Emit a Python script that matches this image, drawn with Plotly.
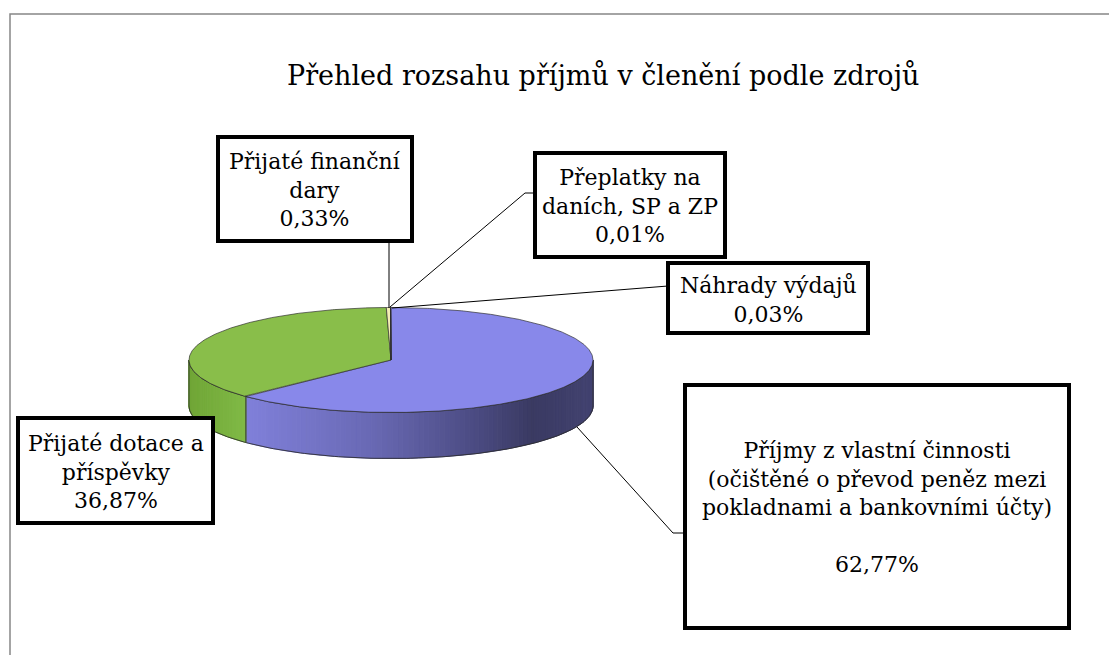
import numpy as np
import plotly.graph_objects as go

# ---- data ----
categories = [
    "Příjmy z vlastní činnosti\n(očištěné o převod peněz mezi\npokladnami a bankovními účty)\n",
    "Přijaté dotace a\npříspěvky",
    "Přijaté finanční\ndary",
    "Přeplatky na\ndaních, SP a ZP",
    "Náhrady výdajů",
]
values = [62.77, 36.87, 0.33, 0.01, 0.03]
title = "Přehled rozsahu příjmů v členění podle zdrojů"

# ---- styles ----
top_colors = ["#8888EA", "#89BE4A", "#F3EEB4", "#C0504D", "#4BACC6"]
side_stops = [
    [(0.0, (135, 135, 225)), (0.14, (128, 128, 218)), (0.45, (105, 105, 180)),
     (0.7, (76, 76, 132)), (0.85, (58, 58, 98)), (1.0, (66, 66, 112))],
    [(0.0, (112, 165, 54)), (0.14, (128, 186, 70)), (1.0, (128, 186, 70))],
    [(0.0, (220, 214, 150)), (1.0, (220, 214, 150))],
    [(0.0, (160, 60, 60)), (1.0, (160, 60, 60))],
    [(0.0, (60, 140, 160)), (1.0, (60, 140, 160))],
]
FONT = "DejaVu Serif"
W, H = 1109, 655
cx, cy, a, b, depth = 391, 360, 202, 52.5, 46

# label boxes: (x0, y0, x1, y1)
boxes = [(685, 385, 1069, 628), (18, 418, 213, 523), (218, 137, 412, 241),
         (535, 153, 725, 257), (668, 263, 868, 333)]
leaders = [
    [(577, 427), (673, 533), (685, 533)],
    None,
    [(389, 308), (389, 241)],
    [(390, 307), (525, 193), (535, 193)],
    [(392, 308), (668, 286)],
]


def pt(theta, dy=0.0):
    t = np.radians(theta)
    return cx + a * np.sin(t), cy - b * np.cos(t) + dy


def interp(stops, t):
    for (t0, c0), (t1, c1) in zip(stops[:-1], stops[1:]):
        if t <= t1:
            f = 0 if t1 == t0 else (t - t0) / (t1 - t0)
            f = min(max(f, 0), 1)
            return tuple(int(round(c0[i] + f * (c1[i] - c0[i]))) for i in range(3))
    return stops[-1][1]


fig = go.Figure()
total = sum(values)
bounds = np.concatenate([[0], np.cumsum(values) / total * 360])
edge = "rgba(45,45,45,0.85)"

# sides (front part only)
for i, v in enumerate(values):
    s, e = max(bounds[i], 90), min(bounds[i + 1], 270)
    if e <= s:
        continue
    n = max(2, int((e - s) / 1.5) + 1)
    th = np.linspace(s, e, n + 1)
    for k in range(n):
        t_a, t_b = th[k], th[k + 1]
        xa, ya = pt(t_a)
        xb, yb = pt(t_b)
        xm = (xa + xb) / 2
        c = interp(side_stops[i], (xm - (cx - a)) / (2 * a))
        col = "rgb(%d,%d,%d)" % c
        arc = np.linspace(t_a, t_b, 4)
        xs_top, ys_top = pt(arc)
        xs_bot, ys_bot = pt(arc[::-1], depth)
        fig.add_trace(go.Scatter(
            x=list(xs_top) + list(xs_bot) + [xs_top[0]],
            y=list(ys_top) + list(ys_bot) + [ys_top[0]],
            mode="lines", fill="toself", fillcolor=col,
            line=dict(color=col, width=1), hoverinfo="skip", showlegend=False))
    arc = np.linspace(s, e, 120)
    xs_top, ys_top = pt(arc)
    xs_bot, ys_bot = pt(arc[::-1], depth)
    fig.add_trace(go.Scatter(
        x=list(xs_top) + list(xs_bot) + [xs_top[0]],
        y=list(ys_top) + list(ys_bot) + [ys_top[0]],
        mode="lines", line=dict(color=edge, width=1),
        hoverinfo="skip", showlegend=False))

# top faces
for i, v in enumerate(values):
    s, e = bounds[i], bounds[i + 1]
    arc = np.linspace(s, e, max(3, int((e - s) * 2) + 2))
    xs, ys = pt(arc)
    fig.add_trace(go.Scatter(
        x=[cx] + list(xs) + [cx], y=[cy] + list(ys) + [cy],
        mode="lines", fill="toself", fillcolor=top_colors[i],
        line=dict(color=edge, width=0.8), hoverinfo="skip", showlegend=False))

shapes = [dict(type="rect", xref="x", yref="y", x0=10, y0=14, x1=W + 20, y1=H + 20,
               line=dict(color="#878787", width=1.5), fillcolor="rgba(0,0,0,0)")]
for ld in leaders:
    if ld is None:
        continue
    path = "M " + " L ".join("%g,%g" % p for p in ld)
    shapes.append(dict(type="path", xref="x", yref="y", path=path,
                       line=dict(color="black", width=1)))
annotations = [dict(x=603, y=75, xref="x", yref="y", text=title, showarrow=False,
                    font=dict(family=FONT, size=27, color="black"))]
for i, v in enumerate(values):
    x0, y0, x1, y1 = boxes[i]
    shapes.append(dict(type="rect", xref="x", yref="y", x0=x0, y0=y0, x1=x1, y1=y1,
                       line=dict(color="black", width=4), fillcolor="white"))
    txt = categories[i].replace("\n", "<br>") + "<br>" + ("%.2f" % v).replace(".", ",") + "%"
    annotations.append(dict(x=(x0 + x1) / 2, y=(y0 + y1) / 2 + 1, xref="x", yref="y",
                            text=txt, showarrow=False, align="center",
                            font=dict(family=FONT, size=22, color="black")))

fig.update_layout(
    width=W, height=H, margin=dict(l=0, r=0, t=0, b=0),
    paper_bgcolor="white", plot_bgcolor="white",
    xaxis=dict(range=[0, W], visible=False, fixedrange=True),
    yaxis=dict(range=[H, 0], visible=False, fixedrange=True),
    shapes=shapes, annotations=annotations, showlegend=False,
)
fig.write_html("out.html", config={"displayModeBar": False},
               post_script="document.body.style.margin='0';document.body.style.overflow='hidden';")
